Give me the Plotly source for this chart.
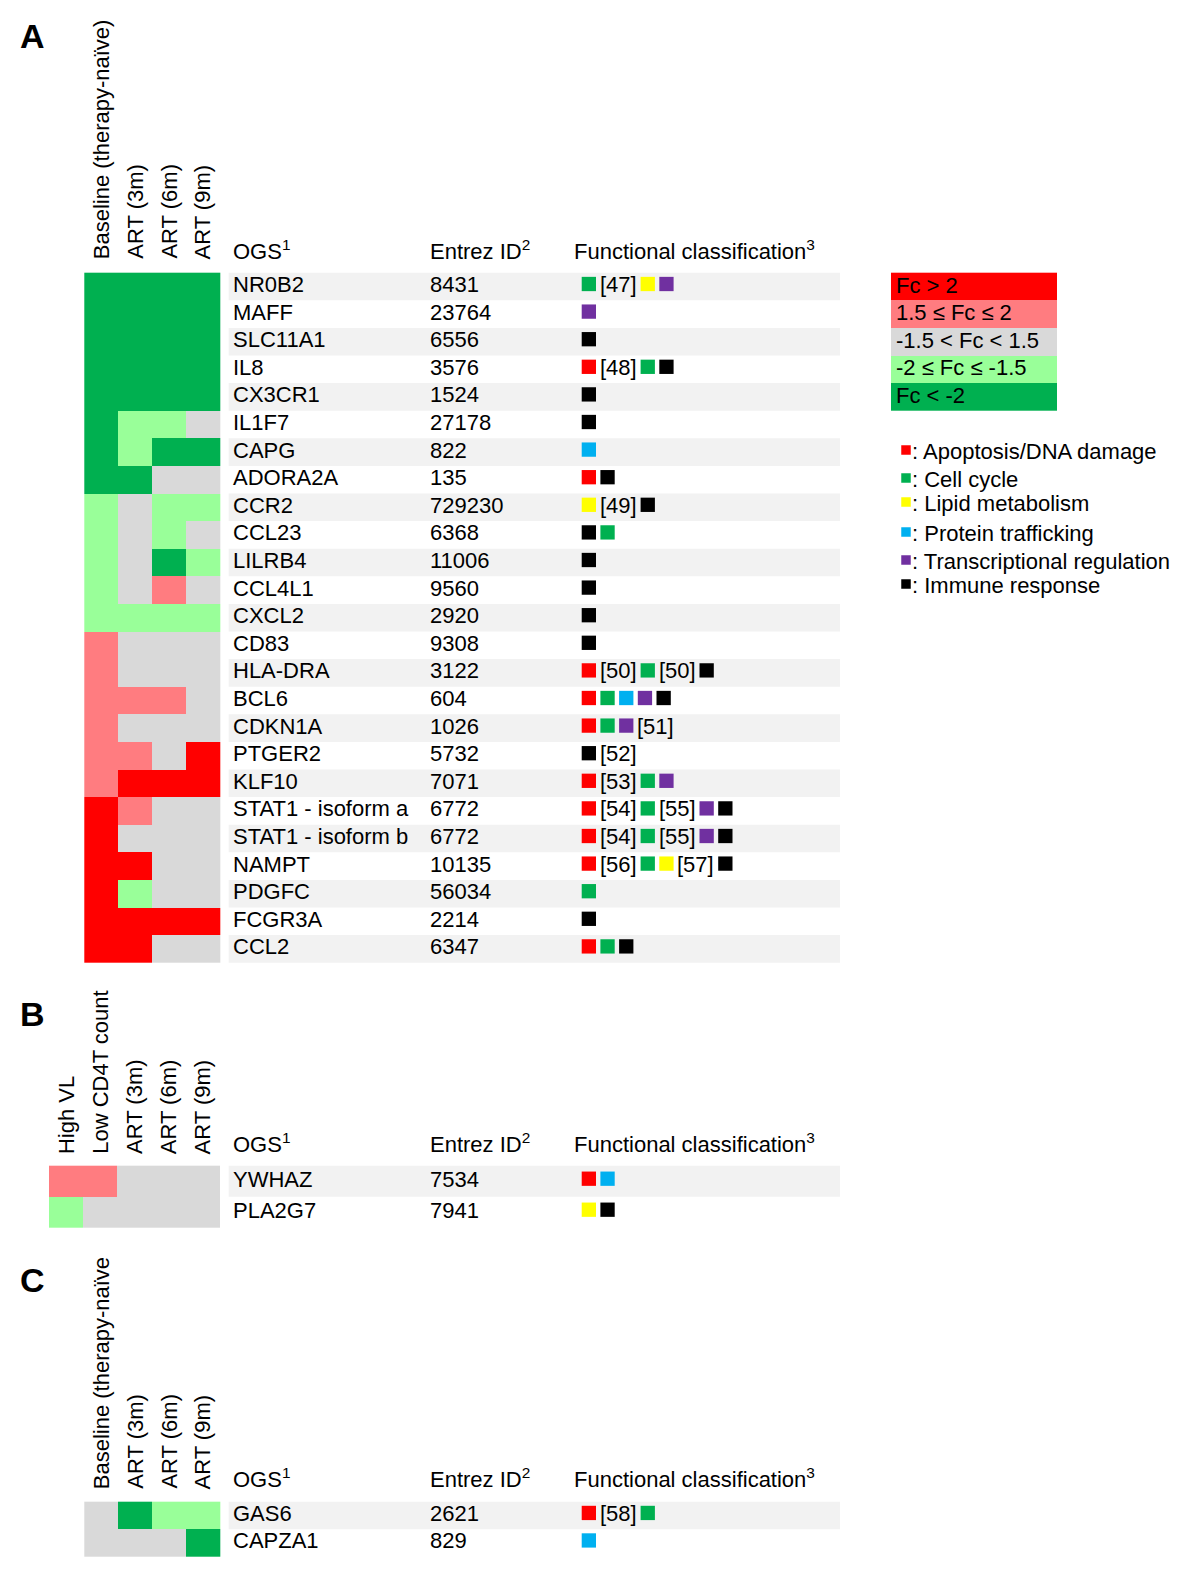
import plotly.graph_objects as go

FONT = "Liberation Sans, Arial, sans-serif"
FS = 22

# ---------------- data ----------------
fc_legend_labels = ["Fc > 2", "1.5 ≤ Fc ≤ 2", "-1.5 < Fc < 1.5", "-2 ≤ Fc ≤ -1.5", "Fc < -2"]
fc_legend_values = [2, 1, 0, -1, -2]

func_codes = ["R", "G", "Y", "B", "P", "K"]
func_labels = ["Apoptosis/DNA damage", "Cell cycle", "Lipid metabolism",
               "Protein trafficking", "Transcriptional regulation", "Immune response"]

a_columns = ["Baseline (therapy-naïve)", "ART (3m)", "ART (6m)", "ART (9m)"]
a_genes = ["NR0B2", "MAFF", "SLC11A1", "IL8", "CX3CR1", "IL1F7", "CAPG", "ADORA2A",
           "CCR2", "CCL23", "LILRB4", "CCL4L1", "CXCL2", "CD83", "HLA-DRA", "BCL6",
           "CDKN1A", "PTGER2", "KLF10", "STAT1 - isoform a", "STAT1 - isoform b",
           "NAMPT", "PDGFC", "FCGR3A", "CCL2"]
a_entrez = ["8431", "23764", "6556", "3576", "1524", "27178", "822", "135", "729230",
            "6368", "11006", "9560", "2920", "9308", "3122", "604", "1026", "5732",
            "7071", "6772", "6772", "10135", "56034", "2214", "6347"]
a_fc = [
    [-2, -2, -2, -2], [-2, -2, -2, -2], [-2, -2, -2, -2], [-2, -2, -2, -2],
    [-2, -2, -2, -2], [-2, -1, -1, 0], [-2, -1, -2, -2], [-2, -2, 0, 0],
    [-1, 0, -1, -1], [-1, 0, -1, 0], [-1, 0, -2, -1], [-1, 0, 1, 0],
    [-1, -1, -1, -1], [1, 0, 0, 0], [1, 0, 0, 0], [1, 1, 1, 0],
    [1, 0, 0, 0], [1, 1, 0, 2], [1, 2, 2, 2], [2, 1, 0, 0],
    [2, 0, 0, 0], [2, 2, 0, 0], [2, -1, 0, 0], [2, 2, 2, 2], [2, 2, 0, 0],
]
a_func = [
    ["G", "[47]", "Y", "P"], ["P"], ["K"], ["R", "[48]", "G", "K"], ["K"], ["K"], ["B"],
    ["R", "K"], ["Y", "[49]", "K"], ["K", "G"], ["K"], ["K"], ["K"], ["K"],
    ["R", "[50]", "G", "[50]", "K"], ["R", "G", "B", "P", "K"], ["R", "G", "P", "[51]"],
    ["K", "[52]"], ["R", "[53]", "G", "P"], ["R", "[54]", "G", "[55]", "P", "K"],
    ["R", "[54]", "G", "[55]", "P", "K"], ["R", "[56]", "G", "Y", "[57]", "K"],
    ["G"], ["K"], ["R", "G", "K"],
]

b_columns = ["High VL", "Low CD4T count", "ART (3m)", "ART (6m)", "ART (9m)"]
b_genes = ["YWHAZ", "PLA2G7"]
b_entrez = ["7534", "7941"]
b_fc = [[1, 1, 0, 0, 0], [-1, 0, 0, 0, 0]]
b_func = [["R", "B"], ["Y", "K"]]

c_columns = ["Baseline (therapy-naïve", "ART (3m)", "ART (6m)", "ART (9m)"]
c_genes = ["GAS6", "CAPZA1"]
c_entrez = ["2621", "829"]
c_fc = [[0, -2, -1, -1], [0, 0, 0, -2]]
c_func = [["R", "[58]", "G"], ["B"]]

header_labels = ["OGS<sup>1</sup>", "Entrez ID<sup>2</sup>", "Functional classification<sup>3</sup>"]

# ---------------- style ----------------
FC_COL = {2: "#FF0000", 1: "#FF7C80", 0: "#D9D9D9", -1: "#99FF99", -2: "#00B050"}
FUNC_COL = {"R": "#FF0000", "G": "#00B050", "Y": "#FFFF00", "B": "#00B0F0",
            "P": "#7030A0", "K": "#000000"}
STRIPE = "#F2F2F2"

colorscale = [[0.0, FC_COL[-2]], [0.125, FC_COL[-2]], [0.125, FC_COL[-1]], [0.375, FC_COL[-1]],
              [0.375, FC_COL[0]], [0.625, FC_COL[0]], [0.625, FC_COL[1]], [0.875, FC_COL[1]],
              [0.875, FC_COL[2]], [1.0, FC_COL[2]]]

GENE_X = 231.5
ENTREZ_X = 429
FUNC_X0 = 581.7
SQ = 14.3
SQ_GAP = 4.4
TXT_GAP = 3.3
REF_W = 38
STRIPE_X0, STRIPE_X1 = 228.7, 840
OFF = 8  # page body margin offset

panels = [
    dict(letter="A", letter_y=36, cols=a_columns, genes=a_genes, entrez=a_entrez, fc=a_fc,
         func=a_func, heat_left=84.3, col_w=33.9, row_top=272.7, row_h=27.6,
         col_bottom=260, header_y=250),
    dict(letter="B", letter_y=1014, cols=b_columns, genes=b_genes, entrez=b_entrez, fc=b_fc,
         func=b_func, heat_left=49.0, col_w=34.2, row_top=1165.7, row_h=31.0,
         col_bottom=1155, header_y=1143),
    dict(letter="C", letter_y=1280, cols=c_columns, genes=c_genes, entrez=c_entrez, fc=c_fc,
         func=c_func, heat_left=84.3, col_w=33.9, row_top=1501.7, row_h=27.5,
         col_bottom=1490, header_y=1478),
]

fig = go.Figure()
annotations = []
shapes = []
sq_x, sq_y, sq_c = [], [], []


def txt(x, y, text, xanchor="left", yanchor="middle", size=FS, angle=0, bold=False):
    if bold:
        text = "<b>" + text + "</b>"
    annotations.append(dict(x=x, y=y, xref="x", yref="y", text=text, showarrow=False,
                            xanchor=xanchor, yanchor=yanchor, textangle=angle,
                            font=dict(family=FONT, size=size, color="black"),
                            borderpad=0))


for p in panels:
    ncol = len(p["cols"])
    nrow = len(p["genes"])
    # panel letter
    txt(19, p["letter_y"], p["letter"], size=34, bold=True)
    # column headers (rotated)
    for j, c in enumerate(p["cols"]):
        txt(p["heat_left"] + (j + 0.5) * p["col_w"], p["col_bottom"], c,
            xanchor="center", yanchor="bottom", angle=-90)
    # table headers
    for hx, hl in zip([GENE_X, ENTREZ_X, 573], header_labels):
        txt(hx, p["header_y"], hl)
    # stripes
    for i in range(0, nrow, 2):
        shapes.append(dict(type="rect", xref="x", yref="y", x0=STRIPE_X0, x1=STRIPE_X1,
                           y0=p["row_top"] + i * p["row_h"], y1=p["row_top"] + (i + 1) * p["row_h"],
                           fillcolor=STRIPE, line=dict(width=0), layer="below"))
    # heatmap
    fig.add_trace(go.Heatmap(z=p["fc"], x0=p["heat_left"] + p["col_w"] / 2, dx=p["col_w"],
                             y0=p["row_top"] + p["row_h"] / 2, dy=p["row_h"],
                             zmin=-2.5, zmax=2.5, colorscale=colorscale, showscale=False,
                             hoverinfo="skip", xgap=0, ygap=0))
    # rows
    for i in range(nrow):
        yc = p["row_top"] + (i + 0.5) * p["row_h"]
        txt(GENE_X, yc - 2, p["genes"][i])
        txt(ENTREZ_X, yc - 2, p["entrez"][i])
        items = p["func"][i]
        cur = FUNC_X0
        for k, it in enumerate(items):
            if it in FUNC_COL:
                sq_x.append(cur + SQ / 2)
                sq_y.append(yc - 2.5)
                sq_c.append(FUNC_COL[it])
                cur += SQ
                nxt = items[k + 1] if k + 1 < len(items) else None
                cur += SQ_GAP if nxt in FUNC_COL else TXT_GAP
            else:
                txt(cur + REF_W / 2, yc - 2, it, xanchor="center")
                cur += REF_W + TXT_GAP

# Fc legend
LEG_X0, LEG_W = 891, 165.7
LEG_TOP, LEG_H = 272.7, 27.6
fig.add_trace(go.Heatmap(z=[[v] for v in fc_legend_values], x0=LEG_X0 + LEG_W / 2, dx=LEG_W,
                         y0=LEG_TOP + LEG_H / 2, dy=LEG_H, zmin=-2.5, zmax=2.5,
                         colorscale=colorscale, showscale=False, hoverinfo="skip"))
for i, lab in enumerate(fc_legend_labels):
    txt(LEG_X0 + 4, LEG_TOP + (i + 0.5) * LEG_H - 1.5, lab)

# functional legend
func_leg_y = [451, 479, 503, 533, 561, 585]
fl_x, fl_y, fl_c = [], [], []
for code, lab, yy in zip(func_codes, func_labels, func_leg_y):
    fl_x.append(906)
    fl_y.append(yy - 1)
    fl_c.append(FUNC_COL[code])
    txt(910.5, yy, ": " + lab)

fig.add_trace(go.Scatter(x=sq_x, y=sq_y, mode="markers", hoverinfo="skip",
                         marker=dict(symbol="square", size=SQ, color=sq_c, line=dict(width=0))))
fig.add_trace(go.Scatter(x=fl_x, y=fl_y, mode="markers", hoverinfo="skip",
                         marker=dict(symbol="square", size=9.5, color=fl_c, line=dict(width=0))))

fig.update_layout(
    width=1200, height=1578, margin=dict(l=0, r=0, t=0, b=0),
    paper_bgcolor="white", plot_bgcolor="white", showlegend=False,
    xaxis=dict(range=[OFF, 1200 + OFF], visible=False, fixedrange=True),
    yaxis=dict(range=[1578 + OFF, OFF], visible=False, fixedrange=True),
    annotations=annotations, shapes=shapes,
)

fig.write_html("out.html")
